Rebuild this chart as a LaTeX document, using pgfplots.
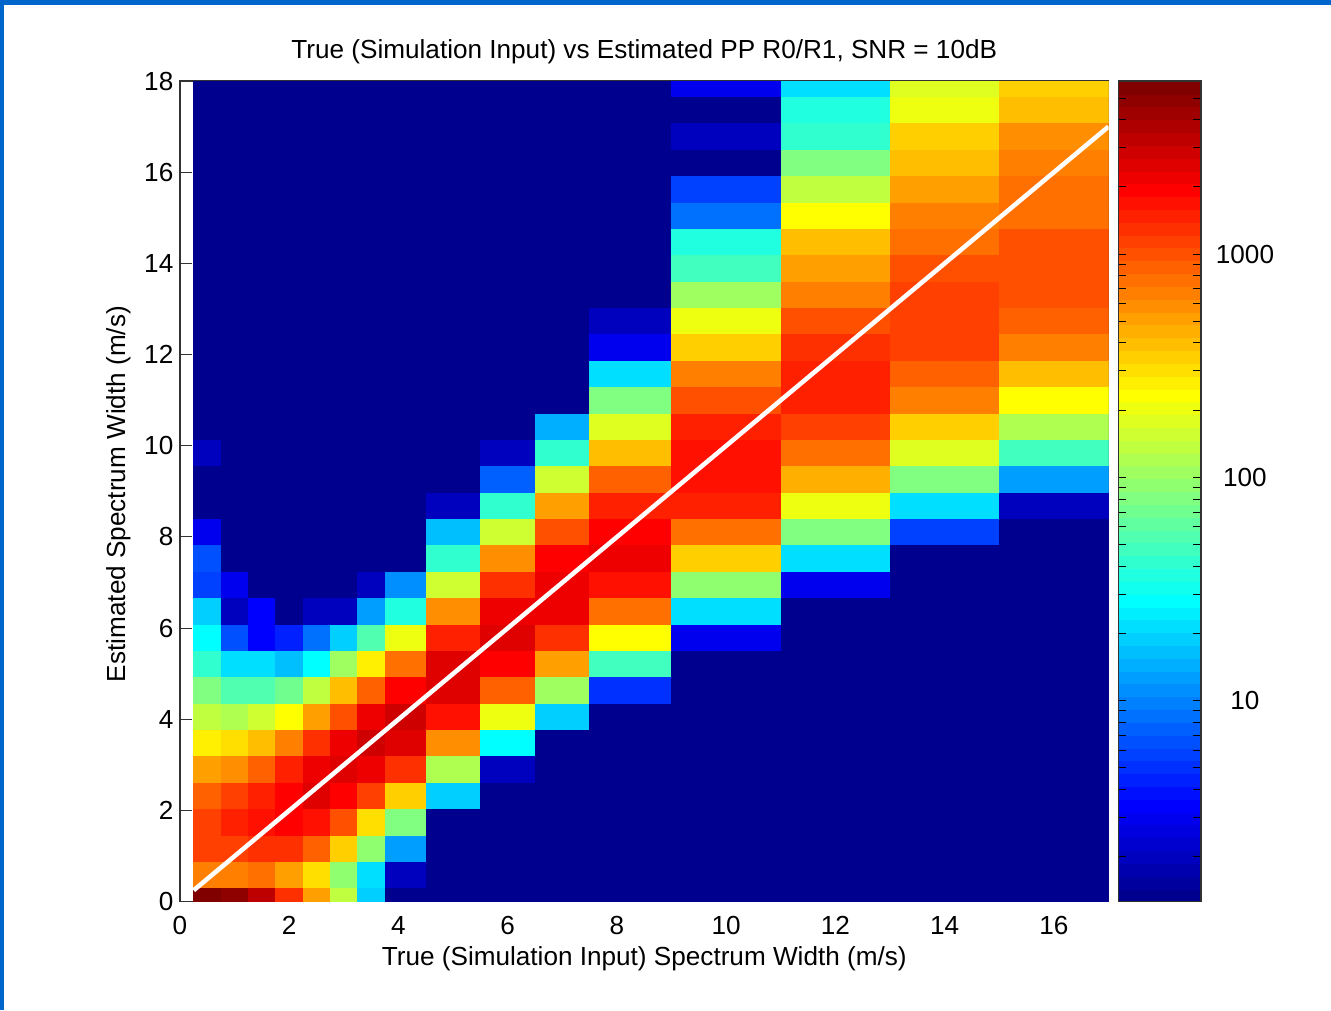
\documentclass[border=0pt]{standalone}
\usepackage{fontspec}
\setmainfont{Liberation Sans}
\usepackage{pgfplots}
\pgfplotsset{compat=1.18}
\newcommand\cf{\fontsize{19.6}{23}\selectfont}
\definecolor{slideblue}{RGB}{0,102,204}
\definecolor{axgray}{RGB}{50,50,50}
% MATLAB jet, 64 levels
\pgfplotsset{colormap={mjet}{
rgb255=(0,0,143) rgb255=(0,0,159) rgb255=(0,0,175) rgb255=(0,0,191) rgb255=(0,0,207) rgb255=(0,0,223) rgb255=(0,0,239) rgb255=(0,0,255)
rgb255=(0,16,255) rgb255=(0,32,255) rgb255=(0,48,255) rgb255=(0,64,255) rgb255=(0,80,255) rgb255=(0,96,255) rgb255=(0,112,255) rgb255=(0,128,255)
rgb255=(0,143,255) rgb255=(0,159,255) rgb255=(0,175,255) rgb255=(0,191,255) rgb255=(0,207,255) rgb255=(0,223,255) rgb255=(0,239,255) rgb255=(0,255,255)
rgb255=(16,255,239) rgb255=(32,255,223) rgb255=(48,255,207) rgb255=(64,255,191) rgb255=(80,255,175) rgb255=(96,255,159) rgb255=(112,255,143) rgb255=(128,255,128)
rgb255=(143,255,112) rgb255=(159,255,96) rgb255=(175,255,80) rgb255=(191,255,64) rgb255=(207,255,48) rgb255=(223,255,32) rgb255=(239,255,16) rgb255=(255,255,0)
rgb255=(255,239,0) rgb255=(255,223,0) rgb255=(255,207,0) rgb255=(255,191,0) rgb255=(255,175,0) rgb255=(255,159,0) rgb255=(255,143,0) rgb255=(255,128,0)
rgb255=(255,112,0) rgb255=(255,96,0) rgb255=(255,80,0) rgb255=(255,64,0) rgb255=(255,48,0) rgb255=(255,32,0) rgb255=(255,16,0) rgb255=(255,0,0)
rgb255=(239,0,0) rgb255=(223,0,0) rgb255=(207,0,0) rgb255=(191,0,0) rgb255=(175,0,0) rgb255=(159,0,0) rgb255=(143,0,0) rgb255=(128,0,0)
}}
% bin edges
\foreach \e [count=\n] in {0.25,0.75,1.25,1.75,2.25,2.75,3.25,3.75,4.5,5.5,6.5,7.5,9,11,13,15,17} {
  \expandafter\xdef\csname xe\n\endcsname{\e}}
\foreach \e [count=\n] in {0,0.31,0.8885,1.467,2.0455,2.624,3.2025,3.781,4.3595,4.938,5.5165,6.095,6.6735,7.252,7.8305,8.409,8.9875,9.566,10.1445,10.723,11.3015,11.88,12.4585,13.037,13.6155,14.194,14.7725,15.351,15.9295,16.508,17.0865,17.665,18} {
  \expandafter\xdef\csname ye\n\endcsname{\e}}
\newcount\rowno
\gdef\meshcoords{}
% one row of bins: colour level (1..64) of each bin; the 17th entry only closes the mesh
\newcommand\cellrow[1]{%
  \global\advance\rowno by 1
  \foreach \v [count=\j] in {#1} {%
    \pgfmathsetmacro{\mm}{0.1+(\v-0.5)*3.675/64}%
    \xdef\meshcoords{\meshcoords (\csname xe\j\endcsname,\csname ye\the\rowno\endcsname) [\mm]}%
  }%
}
\cellrow{64,63,60,53,46,36,21,1,1,1,1,1,1,1,1,1,1}
\cellrow{48,48,49,46,42,33,22,4,1,1,1,1,1,1,1,1,1}
\cellrow{52,52,53,53,50,43,33,18,1,1,1,1,1,1,1,1,1}
\cellrow{52,54,55,56,55,51,42,32,1,1,1,1,1,1,1,1,1}
\cellrow{50,52,54,56,58,56,52,43,21,1,1,1,1,1,1,1,1}
\cellrow{46,47,50,54,57,58,57,53,35,4,1,1,1,1,1,1,1}
\cellrow{41,42,44,48,53,57,59,58,47,24,1,1,1,1,1,1,1}
\cellrow{36,35,37,40,46,51,57,59,55,39,21,1,1,1,1,1,1}
\cellrow{32,29,29,31,36,44,50,56,58,50,34,11,1,1,1,1,1}
\cellrow{27,22,22,20,24,34,41,49,58,56,46,28,1,1,1,1,1}
\cellrow{24,13,8,10,15,21,29,39,54,58,53,40,7,1,1,1,1}
\cellrow{21,4,8,1,4,4,18,26,47,57,57,49,22,1,1,1,1}
\cellrow{12,7,1,1,1,1,4,17,37,53,57,55,33,7,1,1,1}
\cellrow{13,1,1,1,1,1,1,1,27,47,56,57,43,22,1,1,1}
\cellrow{7,1,1,1,1,1,1,1,20,37,51,56,49,32,12,1,1}
\cellrow{1,1,1,1,1,1,1,1,4,27,46,54,54,39,22,4,4}
\cellrow{1,1,1,1,1,1,1,1,1,14,37,50,55,45,32,18,18}
\cellrow{4,1,1,1,1,1,1,1,1,4,27,44,55,49,38,28,28}
\cellrow{1,1,1,1,1,1,1,1,1,1,19,38,54,52,43,35,35}
\cellrow{1,1,1,1,1,1,1,1,1,1,1,32,51,54,48,40,40}
\cellrow{1,1,1,1,1,1,1,1,1,1,1,22,48,54,50,44,44}
\cellrow{1,1,1,1,1,1,1,1,1,1,1,7,43,53,52,48,48}
\cellrow{1,1,1,1,1,1,1,1,1,1,1,4,39,51,52,50,50}
\cellrow{1,1,1,1,1,1,1,1,1,1,1,1,34,48,52,51,51}
\cellrow{1,1,1,1,1,1,1,1,1,1,1,1,28,46,51,51,51}
\cellrow{1,1,1,1,1,1,1,1,1,1,1,1,26,44,49,51,51}
\cellrow{1,1,1,1,1,1,1,1,1,1,1,1,15,40,48,49,49}
\cellrow{1,1,1,1,1,1,1,1,1,1,1,1,12,36,46,49,49}
\cellrow{1,1,1,1,1,1,1,1,1,1,1,1,1,32,44,48,48}
\cellrow{1,1,1,1,1,1,1,1,1,1,1,1,4,27,43,47,47}
\cellrow{1,1,1,1,1,1,1,1,1,1,1,1,1,26,39,44,44}
\cellrow{1,1,1,1,1,1,1,1,1,1,1,1,7,22,38,43,43}
\cellrow{1,1,1,1,1,1,1,1,1,1,1,1,7,22,38,43,43}
\gdef\barcoords{}
\foreach \k in {0,...,64} {
  \pgfmathsetmacro{\yy}{0.1+\k*3.675/64}
  \pgfmathsetmacro{\mm}{0.1+(\k+0.5)*3.675/64}
  \xdef\barcoords{\barcoords (0,\yy) [\mm] (1,\yy) [\mm]}
}
\begin{document}
\begin{tikzpicture}[x=0.75pt,y=0.75pt]
\useasboundingbox (0,0) rectangle (1331,1010);
\fill[white] (0,0) rectangle (1331,1010);
\fill[slideblue] (0,1005) rectangle (1331,1010);
\fill[slideblue] (0,0) rectangle (4,1010);
\begin{axis}[
  at={(135pt,81.225pt)}, anchor=south west,
  scale only axis, width=696.4pt, height=615.5pt,
  xmin=0, xmax=17, ymin=0, ymax=18,
  xtick={0,2,...,16}, ytick={0,2,...,18},
  tick align=inside, major tick length=9pt,
  axis line style={axgray, line width=1.1pt},
  tick style={axgray, line width=0.8pt},
  /pgf/number format/assume math mode=true,
  tick label style={font=\cf, black},
  yticklabel style={xshift=-1.5pt},
  xticklabel style={yshift=-7.5pt},
  xlabel style={font=\cf, yshift=-1.5pt},
  ylabel style={font=\cf, yshift=3pt, xshift=-2pt},
  title style={font=\cf, yshift=3.5pt},
  title={True (Simulation Input) vs Estimated PP R0/R1, SNR = 10dB},
  xlabel={True (Simulation Input) Spectrum Width (m/s)},
  ylabel={Estimated Spectrum Width (m/s)},
  colormap name=mjet, colormap access=piecewise constant,
  point meta min=0.1, point meta max=3.775,
]
\edef\temp{\noexpand\addplot[surf, shader=flat corner, mesh/cols=17, point meta=explicit] coordinates {\meshcoords};}
\temp
\addplot[white, line width=3.4pt, forget plot] coordinates {(0.25,0.25) (17,17)};
\end{axis}
\begin{axis}[
  at={(838.725pt,81.225pt)}, anchor=south west,
  scale only axis, width=62pt, height=615.5pt,
  xmin=0, xmax=1, ymin=0.1, ymax=3.775,
  xtick=\empty,
  ytick={1,2,3}, yticklabels={10,100,1000},
  minor ytick={0.30103,0.47712,0.60206,0.69897,0.77815,0.84510,0.90309,0.95424,
    1.30103,1.47712,1.60206,1.69897,1.77815,1.84510,1.90309,1.95424,
    2.30103,2.47712,2.60206,2.69897,2.77815,2.84510,2.90309,2.95424,
    3.30103,3.47712,3.60206,3.69897},
  ytick pos=both, yticklabel pos=right,
  tick align=inside, major tick length=6pt, minor tick length=6pt,
  axis on top,
  axis line style={axgray, line width=1pt},
  tick style={black, line width=0.7pt},
  tick label style={font=\cf, black},
  yticklabel style={anchor=center, xshift=33pt},
  colormap name=mjet, colormap access=piecewise constant,
  point meta min=0.1, point meta max=3.775,
]
\edef\temp{\noexpand\addplot[surf, shader=flat corner, mesh/cols=2, point meta=explicit] coordinates {\barcoords};}
\temp
\end{axis}
\end{tikzpicture}
\end{document}
